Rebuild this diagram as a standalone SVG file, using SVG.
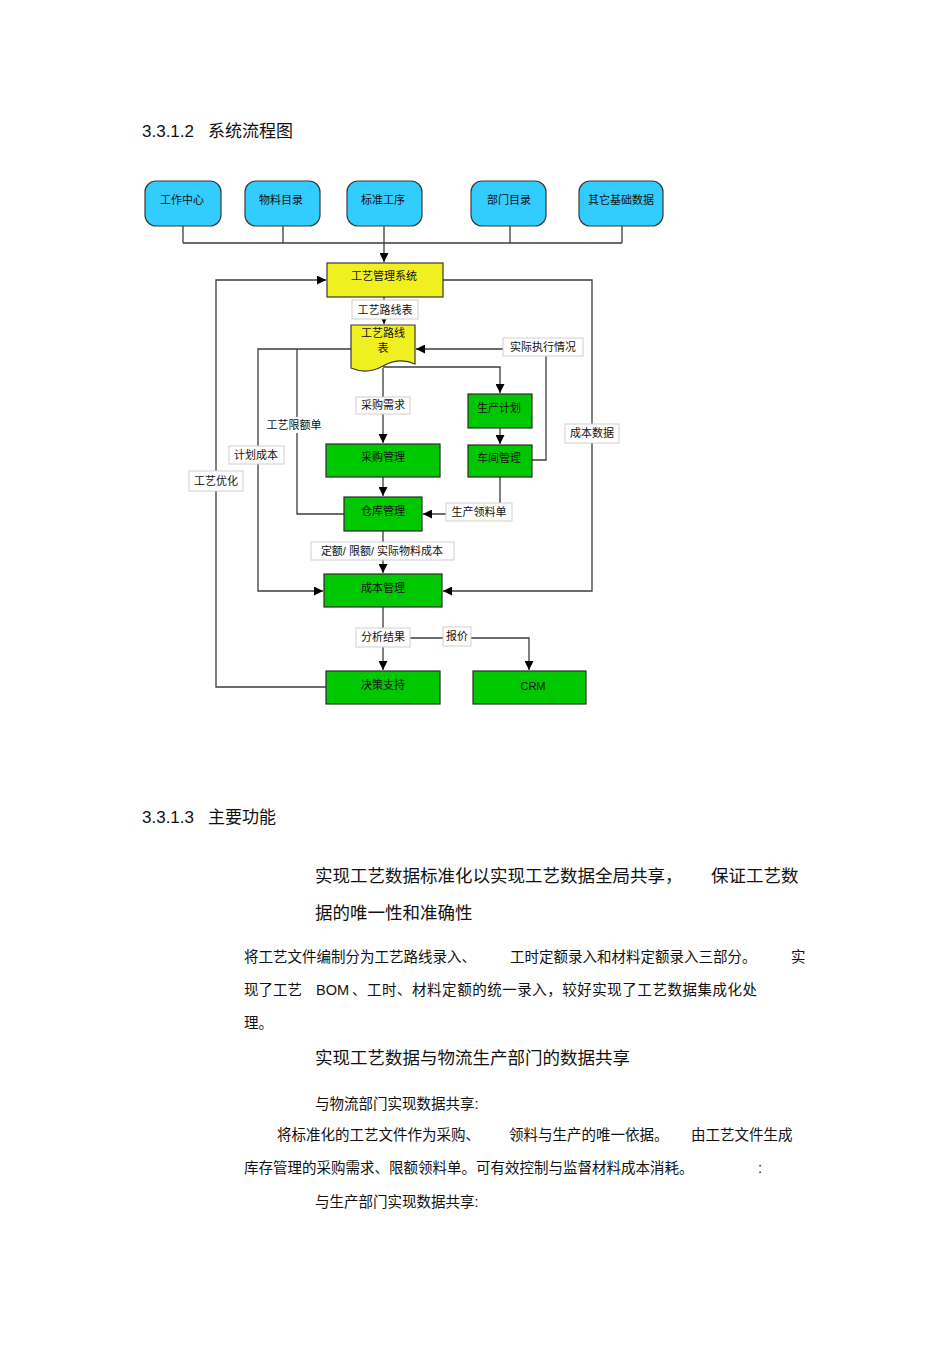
<svg xmlns="http://www.w3.org/2000/svg" width="950" height="1345" viewBox="0 0 950 1345">
<defs>
<marker id="arr" viewBox="0 0 10 10" refX="10" refY="5" markerWidth="9" markerHeight="9" markerUnits="userSpaceOnUse" orient="auto">
<path d="M0,0 L10,5 L0,10 Z" fill="#000"/>
</marker>
<style>
text{font-family:"Liberation Sans","Noto Sans CJK SC",sans-serif;fill:#111}
.t{font-size:11px;text-anchor:middle}
.blue{fill:#33ccff;stroke:#3a3a3a;stroke-width:1.2}
.yel{fill:#f0f020;stroke:#3a3a3a;stroke-width:1.2}
.grn{fill:#00c800;stroke:#2a2a2a;stroke-width:1.2}
.c{fill:none;stroke:#3c3c3c;stroke-width:1.3}
.lb{fill:#fff;stroke:#cfcfcf;stroke-width:1}
.h{font-size:17px}
.b1{font-size:17.5px}
.b2{font-size:14.5px}
</style>
</defs>
<rect width="950" height="1345" fill="#fff"/>

<text class="h" x="142" y="137">3.3.1.2</text>
<text class="h" x="208" y="137">系统流程图</text>

<g id="connectors">
<path class="c" d="M183,226 V243 M283,226 V243 M510,226 V243 M622,226 V243 M183,243 H622"/>
<path class="c" d="M384,226 V262" marker-end="url(#arr)"/>
<path class="c" d="M384,297 V324" marker-end="url(#arr)"/>
<path class="c" d="M326,687 H216 V280 H326" marker-end="url(#arr)"/>
<path class="c" d="M443,280 H592 V591 H443" marker-end="url(#arr)"/>
<path class="c" d="M351,349 H258 V591 H323" marker-end="url(#arr)"/>
<path class="c" d="M297,349 V514 H344"/>
<path class="c" d="M383,368 V443" marker-end="url(#arr)"/>
<path class="c" d="M383,367 H500 V393" marker-end="url(#arr)"/>
<path class="c" d="M500,428 V444" marker-end="url(#arr)"/>
<path class="c" d="M532,460 H546 V349 H416" marker-end="url(#arr)"/>
<path class="c" d="M383,477 V496" marker-end="url(#arr)"/>
<path class="c" d="M500,477 V514 H423" marker-end="url(#arr)"/>
<path class="c" d="M383,531 V573" marker-end="url(#arr)"/>
<path class="c" d="M383,607 V670" marker-end="url(#arr)"/>
<path class="c" d="M383,638 H529 V670" marker-end="url(#arr)"/>
</g>

<g id="edge-labels">
<rect class="lb" x="352" y="300" width="66" height="19"/><text class="t" x="385" y="314">工艺路线表</text>
<rect class="lb" x="503" y="338" width="80" height="18"/><text class="t" x="543" y="351">实际执行情况</text>
<rect class="lb" x="356" y="397" width="54" height="17"/><text class="t" x="383" y="409">采购需求</text>
<rect x="264" y="417" width="60" height="16" fill="#fff"/><text class="t" x="294" y="429">工艺限额单</text>
<rect class="lb" x="229" y="446" width="55" height="18"/><text class="t" x="256" y="459">计划成本</text>
<rect class="lb" x="565" y="424" width="54" height="19"/><text class="t" x="592" y="437">成本数据</text>
<rect class="lb" x="189" y="471" width="54" height="20"/><text class="t" x="216" y="485">工艺优化</text>
<rect class="lb" x="446" y="503" width="66" height="18"/><text class="t" x="479" y="516">生产领料单</text>
<rect class="lb" x="311" y="542" width="143" height="18"/><text class="t" x="382" y="555">定额/ 限额/ 实际物料成本</text>
<rect class="lb" x="356" y="628" width="54" height="19"/><text class="t" x="383" y="641">分析结果</text>
<rect class="lb" x="443" y="627" width="28" height="19"/><text class="t" x="457" y="640">报价</text>
</g>

<g id="n-gzzx"><rect class="blue" x="145" y="181" width="76" height="45" rx="11"/><text class="t" x="182" y="204">工作中心</text></g>
<g id="n-wlml"><rect class="blue" x="245" y="181" width="75" height="45" rx="11"/><text class="t" x="281" y="204">物料目录</text></g>
<g id="n-bzgx"><rect class="blue" x="347" y="181" width="75" height="45" rx="11"/><text class="t" x="383" y="204">标准工序</text></g>
<g id="n-bmml"><rect class="blue" x="471" y="181" width="75" height="45" rx="11"/><text class="t" x="509" y="204">部门目录</text></g>
<g id="n-qtjc"><rect class="blue" x="579" y="181" width="84" height="45" rx="11"/><text class="t" x="621" y="204">其它基础数据</text></g>

<g id="n-gyglxt"><rect class="yel" x="327" y="263" width="116" height="34"/><text class="t" x="384" y="280">工艺管理系统</text></g>
<g id="n-gylxb"><path class="yel" d="M351,325 H415 V364 Q399,357 383,366 Q367,375 351,368 Z"/><text class="t" x="383" y="337">工艺路线</text><text class="t" x="383" y="352">表</text></g>

<g id="n-scjh"><rect class="grn" x="468" y="394" width="64" height="34"/><text class="t" x="499" y="412">生产计划</text></g>
<g id="n-cjgl"><rect class="grn" x="468" y="445" width="64" height="32"/><text class="t" x="499" y="462">车间管理</text></g>
<g id="n-cggl"><rect class="grn" x="326" y="444" width="114" height="33"/><text class="t" x="383" y="461">采购管理</text></g>
<g id="n-ckgl"><rect class="grn" x="344" y="497" width="78" height="34"/><text class="t" x="383" y="515">仓库管理</text></g>
<g id="n-cbgl"><rect class="grn" x="324" y="574" width="118" height="33"/><text class="t" x="383" y="592">成本管理</text></g>
<g id="n-jczc"><rect class="grn" x="326" y="671" width="114" height="33"/><text class="t" x="383" y="689">决策支持</text></g>
<g id="n-crm"><rect class="grn" x="473" y="671" width="113" height="33"/><text class="t" x="533" y="690">CRM</text></g>

<text class="h" x="142" y="823">3.3.1.3</text>
<text class="h" x="208" y="823">主要功能</text>

<text class="b1" x="315" y="882">实现工艺数据标准化以实现工艺数据全局共享，</text>
<text class="b1" x="711" y="882">保证工艺数</text>
<text class="b1" x="315" y="919">据的唯一性和准确性</text>
<text class="b2" x="244" y="962">将工艺文件编制分为工艺路线录入、</text>
<text class="b2" x="510" y="962">工时定额录入和材料定额录入三部分。</text>
<text class="b2" x="791" y="962">实</text>
<text class="b2" x="244" y="995">现了工艺</text>
<text class="b2" x="316" y="995">BOM</text>
<text class="b2" x="352" y="995" textLength="405" lengthAdjust="spacing">、工时、材料定额的统一录入，较好实现了工艺数据集成化处</text>
<text class="b2" x="244" y="1028">理。</text>
<text class="b1" x="315" y="1064">实现工艺数据与物流生产部门的数据共享</text>
<text class="b2" x="315" y="1109">与物流部门实现数据共享:</text>
<text class="b2" x="277" y="1140">将标准化的工艺文件作为采购、</text>
<text class="b2" x="509" y="1140">领料与生产的唯一依据。</text>
<text class="b2" x="691" y="1140">由工艺文件生成</text>
<text class="b2" x="244" y="1173">库存管理的采购需求、限额领料单。可有效控制与监督材料成本消耗。</text>
<text class="b2" x="758" y="1173">:</text>
<text class="b2" x="315" y="1207">与生产部门实现数据共享:</text>
</svg>
